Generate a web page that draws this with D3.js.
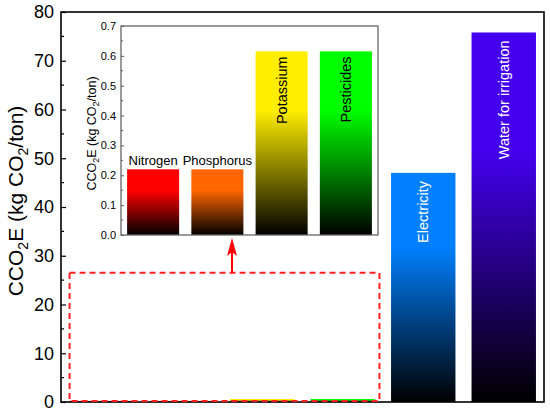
<!DOCTYPE html>
<html>
<head>
<meta charset="utf-8">
<script src="https://cdn.jsdelivr.net/npm/d3@7"></script>
<style>
  body { margin: 0; background: #fff; }
  text { font-family: "Liberation Sans", Arial, sans-serif; }
</style>
</head>
<body>
<div id="chart"></div>
<script>
// data
let categories = ["Nitrogen", "Phosphorus", "Potassium", "Pesticides", "Electricity", "Water for irrigation"];
let values = [0.22, 0.22, 0.615, 0.615, 47.0, 75.8];
let colors = ["#ff0000", "#ff6600", "#ffee00", "#00ff00", "#0080ff", "#4400ee"];
let mainTicks = [0, 10, 20, 30, 40, 50, 60, 70, 80];
let insetCats = categories.slice(0, 4);
let insetVals = values.slice(0, 4);
let insetTicks = [0, 0.1, 0.2, 0.3, 0.4, 0.5, 0.6, 0.7];
let zoomBoxTop = 26.5; // dashed box height in data units

let W = 550, H = 411;
let margin = { top: 12, right: 6, bottom: 9, left: 61 },
  width = W - margin.left - margin.right,
  height = H - margin.top - margin.bottom;

let svg = d3.select("#chart").append("svg")
  .attr("width", W)
  .attr("height", H);

let defs = svg.append("defs");
colors.forEach((c, i) => {
  let grad = defs.append("linearGradient")
    .attr("id", "grad" + i)
    .attr("x1", 0).attr("y1", 0).attr("x2", 0).attr("y2", 1);
  grad.append("stop").attr("offset", "0%").attr("stop-color", c);
  grad.append("stop").attr("offset", "32%").attr("stop-color", c);
  grad.append("stop").attr("offset", "100%").attr("stop-color", "#000");
});

let g = svg.append("g")
  .attr("transform", `translate(${margin.left},${margin.top})`);

let x = d3.scaleBand()
  .domain(categories)
  .range([0, width])
  .paddingInner(0.2)
  .paddingOuter(0.1);

let y = d3.scaleLinear()
  .domain([0, 80])
  .range([height, 0]);

// main bars
g.selectAll(".bar")
  .data(categories)
  .join("rect")
  .attr("class", "bar")
  .attr("x", d => x(d))
  .attr("width", x.bandwidth())
  .attr("y", (d, i) => y(values[i]))
  .attr("height", (d, i) => height - y(values[i]))
  .attr("fill", (d, i) => `url(#grad${i})`);

// vertical labels inside the two big bars
g.selectAll(".blabel")
  .data(categories.slice(4))
  .join("text")
  .attr("class", "blabel")
  .attr("transform", (d, i) => `translate(${x(d) + x.bandwidth() / 2 + 5},${y(values[i + 4]) + 8}) rotate(-90)`)
  .attr("text-anchor", "end")
  .attr("fill", "#fff")
  .attr("font-size", 14.5)
  .text(d => d);

// y axis, ticks pointing in
let yAxis = g.append("g")
  .call(d3.axisLeft(y).tickValues(mainTicks).tickSize(-5).tickPadding(7))
  .call(a => a.select(".domain").remove());
yAxis.selectAll("text").attr("font-size", 18).attr("fill", "#000")
  .style("font-family", "Liberation Sans, Arial, sans-serif");
yAxis.selectAll("line").attr("stroke", "#000").attr("stroke-width", 1.2);

g.append("g")
  .selectAll("line")
  .data(d3.range(5, 80, 10))
  .join("line")
  .attr("x1", 0).attr("x2", 3)
  .attr("y1", d => y(d)).attr("y2", d => y(d))
  .attr("stroke", "#000").attr("stroke-width", 1.2);

// frame
g.append("rect")
  .attr("width", width).attr("height", height)
  .attr("fill", "none").attr("stroke", "#000").attr("stroke-width", 1.6);

// axis title
let title = svg.append("text")
  .attr("transform", `translate(23,${margin.top + height / 2 - 6}) rotate(-90)`)
  .attr("text-anchor", "middle")
  .attr("font-size", 21)
  .attr("fill", "#000");
title.append("tspan").text("CCO");
title.append("tspan").attr("font-size", 14).attr("dy", 5).text("2");
title.append("tspan").attr("dy", -5).text("E (kg CO");
title.append("tspan").attr("font-size", 14).attr("dy", 5).text("2");
title.append("tspan").attr("dy", -5).text("/ton)");

// dashed box around the small bars
let bx0 = x(categories[0]), bx1 = x(categories[3]) + x.bandwidth() + 4;
g.append("rect")
  .attr("x", bx0 + 0.5)
  .attr("y", y(zoomBoxTop))
  .attr("width", bx1 - bx0)
  .attr("height", height - y(zoomBoxTop) - 1)
  .attr("fill", "none")
  .attr("stroke", "#ff2020")
  .attr("stroke-width", 2)
  .attr("stroke-dasharray", "6,4");

// inset
let inset = { left: 121, top: 26, right: 378, bottom: 235 };
let iw = inset.right - inset.left, ih = inset.bottom - inset.top;
let gi = svg.append("g").attr("transform", `translate(${inset.left},${inset.top})`);

let xi = d3.scaleBand().domain(insetCats).range([0, iw]).paddingInner(0.19).paddingOuter(0.095);
let yi = d3.scaleLinear().domain([0, 0.7]).range([ih, 0]);

gi.append("rect").attr("width", iw).attr("height", ih).attr("fill", "#fff");

gi.selectAll(".ibar")
  .data(insetCats)
  .join("rect")
  .attr("class", "ibar")
  .attr("x", d => xi(d))
  .attr("width", xi.bandwidth())
  .attr("y", (d, i) => yi(insetVals[i]))
  .attr("height", (d, i) => ih - yi(insetVals[i]))
  .attr("fill", (d, i) => `url(#grad${i})`);

// horizontal labels above the short bars
gi.selectAll(".hlabel")
  .data(insetCats.slice(0, 2))
  .join("text")
  .attr("class", "hlabel")
  .attr("x", d => xi(d) + xi.bandwidth() / 2)
  .attr("y", (d, i) => yi(insetVals[i]) - 4)
  .attr("text-anchor", "middle")
  .attr("font-size", 13)
  .attr("fill", "#000")
  .text(d => d);

// vertical labels inside the tall inset bars
gi.selectAll(".vlabel")
  .data(insetCats.slice(2))
  .join("text")
  .attr("class", "vlabel")
  .attr("transform", (d, i) => `translate(${xi(d) + xi.bandwidth() / 2 + 5},${yi(insetVals[i + 2]) + 5}) rotate(-90)`)
  .attr("text-anchor", "end")
  .attr("font-size", 14.5)
  .attr("fill", "#000")
  .text(d => d);

let yAxisI = gi.append("g")
  .call(d3.axisLeft(yi).tickValues(insetTicks).tickFormat(d3.format(".1f")).tickSize(-3).tickPadding(5))
  .call(a => a.select(".domain").remove());
yAxisI.selectAll("text").attr("font-size", 11).attr("fill", "#000")
  .style("font-family", "Liberation Sans, Arial, sans-serif");
yAxisI.selectAll("line").attr("stroke", "#555");

gi.append("g")
  .selectAll("line")
  .data(d3.range(0.05, 0.7, 0.1))
  .join("line")
  .attr("x1", 0).attr("x2", 2)
  .attr("y1", d => yi(d)).attr("y2", d => yi(d))
  .attr("stroke", "#555");

gi.append("rect")
  .attr("width", iw).attr("height", ih)
  .attr("fill", "none").attr("stroke", "#666").attr("stroke-width", 1.3);

let ititle = svg.append("text")
  .attr("transform", `translate(96,${inset.top + ih / 2 + 3}) rotate(-90)`)
  .attr("text-anchor", "middle")
  .attr("font-size", 12.5)
  .attr("fill", "#000");
ititle.append("tspan").text("CCO");
ititle.append("tspan").attr("font-size", 9).attr("dy", 3).text("2");
ititle.append("tspan").attr("dy", -3).text("E (kg CO");
ititle.append("tspan").attr("font-size", 9).attr("dy", 3).text("2");
ititle.append("tspan").attr("dy", -3).text("/ton)");

// arrow from the dashed box up to the inset
let ax = 232, ay0 = margin.top + y(zoomBoxTop), ay1 = inset.bottom + 3;
svg.append("line")
  .attr("x1", ax).attr("x2", ax)
  .attr("y1", ay0).attr("y2", ay1 + 12)
  .attr("stroke", "#ff0000").attr("stroke-width", 2);
svg.append("path")
  .attr("d", `M${ax},${ay1} L${ax - 5},${ay1 + 18} L${ax},${ay1 + 14} L${ax + 5},${ay1 + 18} Z`)
  .attr("fill", "#ff0000");
</script>
</body>
</html>
